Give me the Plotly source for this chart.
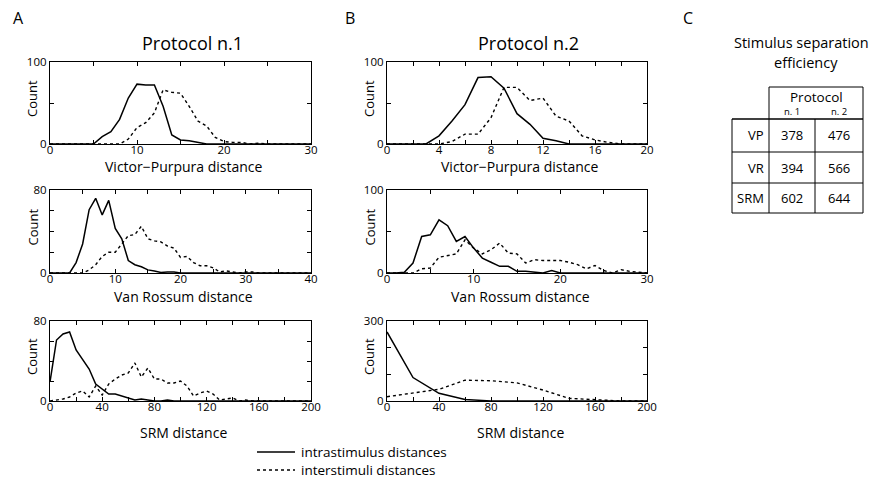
import plotly.graph_objects as go

W, H = 878, 479
OFF = 8  # page body margin in the browser
FONT = "Open Sans"

# ---------------- data ----------------
vp1_x = list(range(0, 31))
vp1_intra = [0, 0, 0, 0, 0, 0, 9, 15, 30, 56, 73, 72, 72, 46, 11, 5, 4, 2, 0, 0, 0, 0, 0, 0, 0, 0, 0, 0, 0, 0, 0]
vp1_inter = [0, 0, 0, 0, 0, 0, 0, 0, 0, 6, 20, 26, 38, 66, 63, 62, 46, 28, 22, 8, 3, 2, 2, 0, 1, 0, 0, 0, 0, 0, 0]

vp2_x = list(range(0, 21))
vp2_intra = [0, 0, 0, 0, 10, 28, 48, 81, 82, 68, 37, 24, 7, 4, 0, 0, 0, 0, 0, 0, 0]
vp2_inter = [0, 0, 0, 0, 0, 3, 12, 12, 32, 69, 69, 53, 56, 34, 28, 10, 5, 2, 0, 0, 0]

vr1_x = list(range(0, 41))
vr1_intra = [0, 0, 0, 0, 10, 28, 61, 72, 56, 70, 43, 33, 12, 8, 6, 3, 2, 0.5, 1, 1, 0,
             0, 0, 0, 0, 0, 0, 0, 0, 0, 0, 0, 0, 0, 0, 0, 0, 0, 0, 0, 0]
vr1_inter = [0, 0, 0, 0, 0, 0, 3, 8, 16, 20, 20, 28, 36, 37, 45, 33, 31, 30, 26, 24, 15,
             16, 10, 7, 7, 5, 1, 2, 1, 0, 1, 1, 0, 0, 0, 0, 0, 0, 0, 0, 0]

vr2_x = list(range(0, 31))
vr2_intra = [0, 0, 1, 12, 44, 46, 64, 57, 38, 44, 30, 18, 13, 8, 8, 2, 2, 1, 0, 3, 0,
             0, 0, 0, 0, 0, 0, 0, 0, 0, 0]
vr2_inter = [0, 0, 0, 0, 5, 6, 19, 21, 23, 40, 30, 23, 28, 36, 24, 23, 12, 16, 15, 15, 15,
             13, 10, 5, 9, 3, 0, 4, 2, 1, 0]

srm1_x = list(range(0, 201, 5))
srm1_intra = [19, 61, 67, 69, 51, 42, 32, 17, 12, 7, 7, 5, 3, 1, 2, 1, 0, 0, 1, 0, 0,
              0, 0, 0, 0, 0, 0, 0, 0, 0, 0, 0, 0, 0, 0, 0, 0, 0, 0, 0, 0]
srm1_inter = [0, 1, 2, 4, 8, 10, 4, 15, 6, 17, 22, 26, 28, 38, 24, 33, 22, 22, 18, 18, 20,
              15, 5, 8, 10, 7, 1, 2, 3, 0, 1, 0, 0, 0, 0, 0, 0, 0, 0, 0, 0]

srm2_x = list(range(0, 201, 20))
srm2_intra = [259, 88, 29, 6, 0, 0, 0, 0, 0, 0, 0]
srm2_inter = [16, 29, 44, 78, 76, 68, 41, 10, 4, 0, 0]

# tick labels
vp1_xticks = [0, 10, 20, 30]
vp2_xticks = [0, 4, 8, 12, 16, 20]
vr1_xticks = [0, 10, 20, 30, 40]
vr2_xticks = [0, 10, 20, 30]
srm_xticks = [0, 40, 80, 120, 160, 200]

# table
table_rows = ["VP", "VR", "SRM"]
table_n1 = [378, 394, 602]
table_n2 = [476, 566, 644]

# ---------------- layout helpers ----------------
def px(x):
    return (x - OFF) / W

def py(y):
    return 1 - (y - OFF) / H

fig = go.Figure()

panels = [
    (vp1_x, vp1_intra, vp1_inter, [0, 30], vp1_xticks, 5, [0, 100], [0, 100], 50, (50, 311), (62, 144), "Victor\u2212Purpura distance", 22.5),
    (vp2_x, vp2_intra, vp2_inter, [0, 20], vp2_xticks, 2, [0, 100], [0, 100], 50, (387, 647), (62, 144), "Victor\u2212Purpura distance", 22.5),
    (vr1_x, vr1_intra, vr1_inter, [0, 40], vr1_xticks, 5, [0, 80], [0, 80], 20, (50, 311), (190, 273), "Van Rossum distance", 23),
    (vr2_x, vr2_intra, vr2_inter, [0, 30], vr2_xticks, 5, [0, 100], [0, 100], 50, (387, 647), (190, 273), "Van Rossum distance", 23),
    (srm1_x, srm1_intra, srm1_inter, [0, 200], srm_xticks, 20, [0, 80], [0, 80], 20, (50, 311), (321, 401), "SRM distance", 31),
    (srm2_x, srm2_intra, srm2_inter, [0, 200], srm_xticks, 20, [0, 300], [0, 300], 100, (387, 647), (321, 401), "SRM distance", 31),
]

annotations = []
for i, (xs, intra, inter, xr, xt, xm, yr, yt, ym, xd, yd, xtitle, toff) in enumerate(panels):
    n = i + 1
    xa = "x" if n == 1 else f"x{n}"
    ya = "y" if n == 1 else f"y{n}"
    fig.add_trace(go.Scatter(x=xs, y=inter, mode="lines", xaxis=xa, yaxis=ya,
                             line=dict(color="black", width=1.4, dash="3px,3px"),
                             showlegend=False, hoverinfo="skip"))
    fig.add_trace(go.Scatter(x=xs, y=intra, mode="lines", xaxis=xa, yaxis=ya,
                             line=dict(color="black", width=1.5),
                             showlegend=False, hoverinfo="skip"))
    common = dict(showgrid=False, zeroline=False, showline=True, linecolor="black",
                  linewidth=1.3, mirror="ticks", ticks="inside", ticklen=4,
                  tickcolor="black", tickwidth=1, tickmode="array", automargin=False,
                  tickfont=dict(family=FONT, size=11.5, color="black"))
    xkey = "xaxis" if n == 1 else f"xaxis{n}"
    ykey = "yaxis" if n == 1 else f"yaxis{n}"
    fig.update_layout({
        xkey: dict(common, domain=[px(xd[0]), px(xd[1])], range=xr, tickvals=xt,
                   ticktext=[str(v) for v in xt], anchor=ya, ticklabelstandoff=-5,
                   minor=dict(ticks="inside", dtick=xm, tick0=0, ticklen=4, tickcolor="black")),
        ykey: dict(common, domain=[py(yd[1]), py(yd[0])], range=yr, tickvals=yt,
                   ticktext=[str(v) for v in yt], anchor=xa,
                   minor=dict(ticks="inside", dtick=ym, tick0=0, ticklen=4, tickcolor="black")),
    })
    annotations.append(dict(text=xtitle, x=px((xd[0] + xd[1]) / 2 + 3), y=py(yd[1] + toff),
                            xref="paper", yref="paper", showarrow=False,
                            font=dict(family=FONT, size=14, color="black"),
                            xanchor="center", yanchor="middle"))
    annotations.append(dict(text="Count", x=px(xd[0] - 18), y=py((yd[0] + yd[1]) / 2 - 4),
                            xref="paper", yref="paper", showarrow=False, textangle=-90,
                            font=dict(family=FONT, size=13, color="black"),
                            xanchor="center", yanchor="middle"))

def txt(t, x, y, size=13, xanchor="center"):
    annotations.append(dict(text=t, x=px(x), y=py(y), xref="paper", yref="paper",
                            showarrow=False, font=dict(family=FONT, size=size, color="black"),
                            xanchor=xanchor, yanchor="middle"))

txt("A", 18, 18, 16)
txt("B", 350, 18, 16)
txt("C", 688, 18, 16)
txt("Protocol n.1", 192, 43, 18)
txt("Protocol n.2", 528, 43, 18)
txt("Stimulus separation", 801, 43, 14.5)
txt("efficiency", 806, 63, 14.5)

tl, c1, c2, tr = 732, 769, 815, 863
ttop, thead = 87, 119
row_bounds = [119, 152, 183, 213]
shapes = []
def line(x0, y0, x1, y1, w=1):
    shapes.append(dict(type="line", xref="paper", yref="paper", x0=px(x0), y0=py(y0),
                       x1=px(x1), y1=py(y1), line=dict(color="black", width=w)))

line(c1, ttop, tr, ttop)
line(c1, ttop, c1, row_bounds[-1])
line(tr, ttop, tr, row_bounds[-1])
line(tl, thead, tl, row_bounds[-1])
line(c2, thead, c2, row_bounds[-1])
for yb in row_bounds:
    line(tl, yb, tr, yb, 1.4 if yb == thead else 1)

txt("Protocol", (c1 + tr) / 2, 97, 13.5)
txt("n. 1", (c1 + c2) / 2, 111, 9.5)
txt("n. 2", (c2 + tr) / 2, 111, 9.5)
for i, lab in enumerate(table_rows):
    yc = (row_bounds[i] + row_bounds[i + 1]) / 2
    txt(lab, c1 - 3, yc, 13, xanchor="right")
    txt(str(table_n1[i]), (c1 + c2) / 2, yc, 13)
    txt(str(table_n2[i]), (c2 + tr) / 2, yc, 13)

shapes.append(dict(type="line", xref="paper", yref="paper", x0=px(257), x1=px(295),
                   y0=py(452), y1=py(452), line=dict(color="black", width=1.4)))
shapes.append(dict(type="line", xref="paper", yref="paper", x0=px(257), x1=px(295),
                   y0=py(470), y1=py(470), line=dict(color="black", width=1.4, dash="3px,3px")))
txt("intrastimulus distances", 299, 452, 13.5, xanchor="left")
txt("interstimuli distances", 299, 470, 13.5, xanchor="left")

fig.update_layout(width=W, height=H, margin=dict(l=0, r=0, t=0, b=0, autoexpand=False),
                  paper_bgcolor="white", plot_bgcolor="white",
                  annotations=annotations, shapes=shapes, showlegend=False,
                  font=dict(family=FONT, color="black"))

fig.write_html("out.html")
